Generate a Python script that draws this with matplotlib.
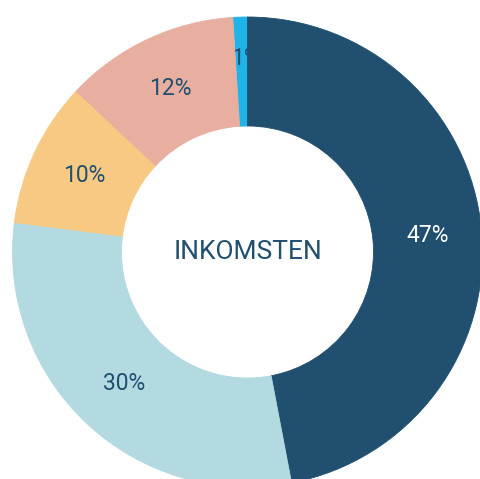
import matplotlib
matplotlib.use("Agg")
import matplotlib.pyplot as plt
import numpy as np

labels = ["47%", "30%", "10%", "12%", "1%"]
values = [47, 30, 10, 12, 1]
colors = ["#204f6f", "#b3d9e1", "#f8c983", "#e8aea0", "#1fb4e9"]
text_colors = ["#ffffff", "#204f6f", "#204f6f", "#204f6f", "#204f6f"]
center_title = "INKOMSTEN"

plt.rcParams['font.family'] = ['Roboto', 'DejaVu Sans']

fig = plt.figure(figsize=(4.8, 4.79), dpi=100)
ax = fig.add_axes([0, 0, 1, 1])
R = 235
inner = 126
wedges, _ = ax.pie(values, colors=colors, startangle=90, counterclock=False,
                   radius=R, center=(0, 0),
                   wedgeprops=dict(width=R - inner, linewidth=0.6))
for w, c in zip(wedges, colors):
    w.set_edgecolor(c)

rmid = (R + inner) / 2
for w, lab, tc, v in zip(wedges, labels, text_colors, values):
    ang = np.deg2rad((w.theta1 + w.theta2) / 2)
    x, y = rmid * np.cos(ang), rmid * np.sin(ang)
    if v < 3:
        # label of a tiny slice sits under the neighbouring slices
        w.set_zorder(1)
        z = 1.5
        x, y = x + 4, y + 13
    else:
        w.set_zorder(2)
        z = 3
    ax.text(x, y, lab, ha="center", va="center",
            fontsize=16.5, color=tc, zorder=z)

ax.text(0, 0, center_title, ha="center", va="center", fontsize=19, color="#204f6f")

ax.set_xlim(-247.5, 232.5)
ax.set_ylim(-227, 252)
ax.set_aspect("equal")
ax.axis("off")
fig.savefig("out.png", dpi=100)
